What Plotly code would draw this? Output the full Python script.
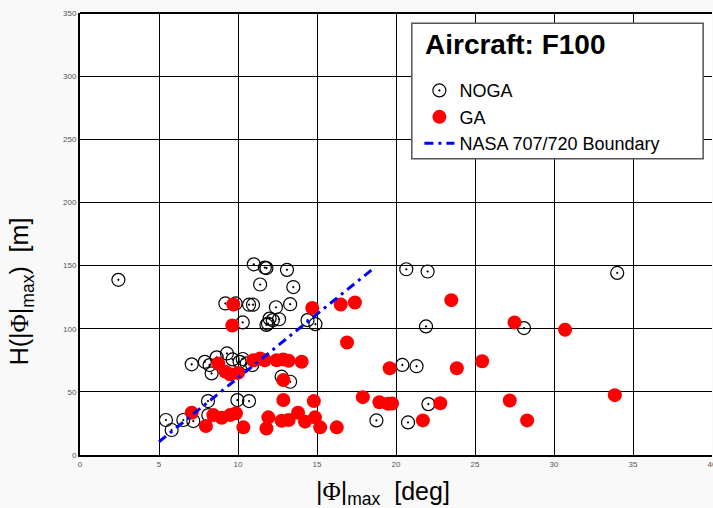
import plotly.graph_objects as go

noga_x = [2.43, 11.0, 11.7, 11.8, 13.1, 11.4, 13.5, 9.2, 9.85, 10.7, 10.95, 12.4, 13.3,
          10.3, 11.8, 12.0, 12.2, 12.6, 11.9, 14.4, 14.9,
          7.07, 7.9, 8.33, 8.2, 8.65, 9.3, 9.66, 10.1, 10.55, 10.9, 10.3, 12.76, 13.3,
          8.1, 9.96, 10.7, 5.44, 5.8, 6.54, 7.17, 8.12,
          20.65, 22.0, 34.0, 21.9, 28.1, 20.4, 21.3, 22.05, 18.76, 20.76]
noga_y = [138.7, 151, 148.4, 148.0, 146.6, 135, 133, 120, 120, 119, 119, 117, 119.4,
          105, 103, 108, 106.8, 107.5, 104, 106.8, 103.6,
          71.8, 73.8, 64.6, 71.2, 77.3, 80.4, 75.7, 73.8, 72.5, 71.2, 76, 62, 58,
          42.7, 43.5, 42.7, 27.7, 19.8, 27.7, 26.9, 31.6,
          147.1, 145.3, 144.2, 101.8, 100.5, 71.3, 70.3, 40.3, 27.4, 25.8]

ga_x = [9.7, 9.64, 14.7, 16.5, 17.4, 23.5, 27.5, 30.7, 16.9,
        8.75, 9.2, 9.5, 10.0, 10.97, 11.4, 11.7, 12.45, 12.87, 13.2, 14.03,
        12.87, 12.87, 14.8, 17.9, 18.95, 19.5, 19.75, 22.8, 27.2, 33.85,
        19.6, 23.85, 25.45,
        7.07, 7.97, 8.44, 8.97, 9.5, 9.87, 10.34, 11.92, 11.8, 12.76, 13.2, 13.8,
        14.24, 14.87, 15.2, 16.25, 21.7, 28.3]
ga_y = [119.2, 102.6, 116.5, 119.2, 120.8, 122.6, 105, 99.2, 89.1,
        72.5, 66, 64, 65, 75, 76.5, 75, 75, 75.7, 74.6, 73.8,
        59.3, 43.5, 42.7, 45.8, 41.8, 40.5, 40.8, 41, 43.2, 47.4,
        68.7, 68.7, 74.2,
        33.5, 23, 31.6, 29.5, 31.6, 33, 21.9, 29.8, 21, 27.1, 27.7, 33.5,
        26.4, 29.8, 21.9, 21.9, 27.4, 27.4]

nasa_x = [5.0, 18.6]
nasa_y = [10.5, 148.0]

x_ticks = [0, 5, 10, 15, 20, 25, 30, 35, 40]
y_ticks = [0, 50, 100, 150, 200, 250, 300, 350]

fig = go.Figure()
fig.add_trace(go.Scatter(
    x=noga_x, y=noga_y, mode="markers", name="NOGA",
    marker=dict(symbol="circle-open-dot", size=13, color="black",
                line=dict(width=1.2, color="black"))))
fig.add_trace(go.Scatter(
    x=ga_x, y=ga_y, mode="markers", name="GA",
    marker=dict(symbol="circle", size=14, color="#ff0000", line=dict(width=0))))
fig.add_trace(go.Scatter(
    x=nasa_x, y=nasa_y, mode="lines", name="NASA 707/720 Boundary",
    line=dict(color="#0000ff", width=3, dash="9px,5px,3px,5px")))

axis_common = dict(showgrid=True, gridcolor="black", gridwidth=1,
                   showline=True, linecolor="black", linewidth=2,
                   zeroline=False, ticks="", ticklabeloverflow="allow",
                   automargin=False,
                   tickfont=dict(family="Arial, Liberation Sans", size=8, color="#555555"))

fig.update_xaxes(range=[0, 40], tickvals=x_ticks, mirror=False, **axis_common)
fig.update_yaxes(range=[0, 350], tickvals=y_ticks, mirror=False, **axis_common)

# top border
fig.add_shape(type="line", xref="paper", yref="paper", x0=0, x1=1, y0=1, y1=1,
              line=dict(color="black", width=2))

# legend box
fig.add_shape(type="rect", xref="paper", yref="paper",
              x0=0.525, x1=0.986, y0=0.670, y1=0.977,
              fillcolor="white", line=dict(color="#555555", width=1.5), layer="above")
fig.add_annotation(xref="paper", yref="paper", x=0.543, y=0.928,
                   xanchor="left", yanchor="middle", showarrow=False,
                   text="<b>Aircraft: F100</b>",
                   font=dict(family="Arial, Liberation Sans", size=28, color="black"))

phi = '<span style="font-family:Liberation Serif, DejaVu Serif">Φ</span>'
fig.add_annotation(xref="paper", yref="paper", x=0.48, y=-0.087,
                   xanchor="center", yanchor="middle", showarrow=False,
                   text="|" + phi + "|<sub>max</sub>  [deg]",
                   font=dict(family="Arial, Liberation Sans", size=25, color="black"))
fig.add_annotation(xref="paper", yref="paper", x=-0.092, y=0.37,
                   xanchor="center", yanchor="middle", showarrow=False, textangle=-90,
                   text="H(|" + phi + "|<sub>max</sub>)  [m]",
                   font=dict(family="Arial, Liberation Sans", size=25, color="black"))

fig.update_layout(
    width=713, height=508,
    margin=dict(l=80, r=1, t=13, b=53, autoexpand=False),
    paper_bgcolor="#f9f9f9", plot_bgcolor="white",
    showlegend=True,
    legend=dict(x=0.537, y=0.866, xanchor="left", yanchor="top",
                bgcolor="rgba(0,0,0,0)", borderwidth=0,
                font=dict(family="Arial, Liberation Sans", size=18, color="black"),
                tracegroupgap=0, itemwidth=30),
)

fig.write_html("out.html")
